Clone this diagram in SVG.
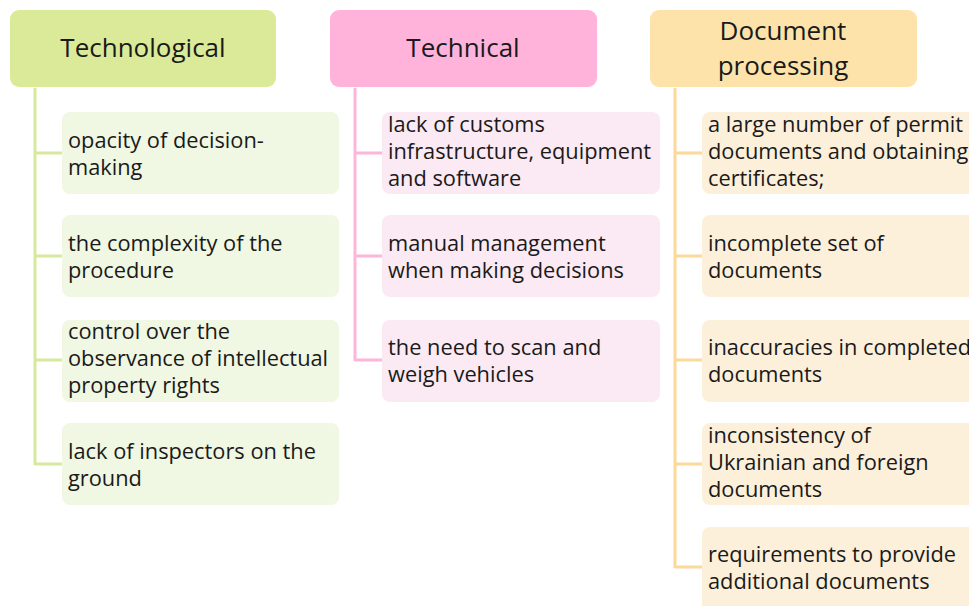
<svg xmlns="http://www.w3.org/2000/svg" width="969" height="606" viewBox="0 0 969 606">
<style>
text{font-family:"Open Sans","Noto Sans","Liberation Sans",sans-serif;fill:#1a1a1a}
.h{font-size:26px;text-anchor:middle}
.t{font-size:21.8px}
.g1{fill:#dbea98}.g2{fill:#f0f7e2}
.p1{fill:#ffb3da}.p2{fill:#fbe9f3}
.o1{fill:#fde3aa}.o2{fill:#fcf0db}
.lg{stroke:#d6e99c;stroke-width:3;fill:none}
.lp{stroke:#fdb6d9;stroke-width:3;fill:none}
.lo{stroke:#fcd999;stroke-width:3;fill:none}
</style>
<rect width="969" height="606" fill="#ffffff"/>
<g id="connectors">
<path class="lg" d="M35 88V465M35 153H62M35 256H62M35 360H62M35 464H62"/>
<path class="lp" d="M355 88V361M355 153H382M355 256H382M355 360H382"/>
<path class="lo" d="M675 88V568M675 153H702M675 256H702M675 360H702M675 464H702M675 567H702"/>
</g>
<g id="h1"><rect class="g1" x="10" y="10" width="266" height="77" rx="9"/><text class="h" x="143" y="57">Technological</text></g>
<g id="h2"><rect class="p1" x="330" y="10" width="267" height="77" rx="9"/><text class="h" x="463" y="57">Technical</text></g>
<g id="h3"><rect class="o1" x="650" y="10" width="267" height="77" rx="9"/><text class="h" x="783" y="40">Document</text><text class="h" x="783" y="75">processing</text></g>

<g id="a1"><rect class="g2" x="62" y="112" width="277" height="82" rx="8"/><text class="t" x="68"><tspan x="68" y="148">opacity of decision-</tspan><tspan x="68" y="175">making</tspan></text></g>
<g id="a2"><rect class="g2" x="62" y="215" width="277" height="82" rx="8"/><text class="t" x="68"><tspan x="68" y="251">the complexity of the</tspan><tspan x="68" y="278">procedure</tspan></text></g>
<g id="a3"><rect class="g2" x="62" y="320" width="277" height="82" rx="8"/><text class="t" x="68"><tspan x="68" y="339">control over the</tspan><tspan x="68" y="366">observance of intellectual</tspan><tspan x="68" y="393">property rights</tspan></text></g>
<g id="a4"><rect class="g2" x="62" y="423" width="277" height="82" rx="8"/><text class="t" x="68"><tspan x="68" y="459">lack of inspectors on the</tspan><tspan x="68" y="486">ground</tspan></text></g>

<g id="b1"><rect class="p2" x="382" y="112" width="278" height="82" rx="8"/><text class="t"><tspan x="388" y="132">lack of customs</tspan><tspan x="388" y="159">infrastructure, equipment</tspan><tspan x="388" y="186">and software</tspan></text></g>
<g id="b2"><rect class="p2" x="382" y="215" width="278" height="82" rx="8"/><text class="t"><tspan x="388" y="251">manual management</tspan><tspan x="388" y="278">when making decisions</tspan></text></g>
<g id="b3"><rect class="p2" x="382" y="320" width="278" height="82" rx="8"/><text class="t"><tspan x="388" y="355">the need to scan and</tspan><tspan x="388" y="382">weigh vehicles</tspan></text></g>

<g id="c1"><rect class="o2" x="702" y="112" width="280" height="82" rx="8"/><text class="t"><tspan x="708" y="132">a large number of permit</tspan><tspan x="708" y="159">documents and obtaining</tspan><tspan x="708" y="186">certificates;</tspan></text></g>
<g id="c2"><rect class="o2" x="702" y="215" width="280" height="82" rx="8"/><text class="t"><tspan x="708" y="251">incomplete set of</tspan><tspan x="708" y="278">documents</tspan></text></g>
<g id="c3"><rect class="o2" x="702" y="320" width="280" height="82" rx="8"/><text class="t"><tspan x="708" y="355">inaccuracies in completed</tspan><tspan x="708" y="382">documents</tspan></text></g>
<g id="c4"><rect class="o2" x="702" y="423" width="280" height="82" rx="8"/><text class="t"><tspan x="708" y="443">inconsistency of</tspan><tspan x="708" y="470">Ukrainian and foreign</tspan><tspan x="708" y="497">documents</tspan></text></g>
<g id="c5"><rect class="o2" x="702" y="527" width="280" height="90" rx="8"/><text class="t"><tspan x="708" y="562">requirements to provide</tspan><tspan x="708" y="589">additional documents</tspan></text></g>
</svg>
